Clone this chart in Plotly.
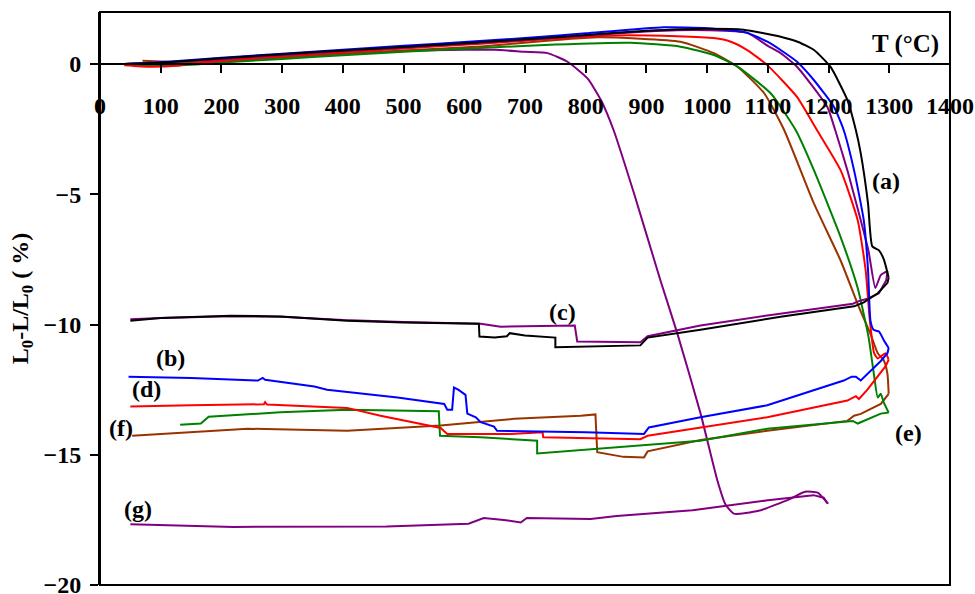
import plotly.graph_objects as go

# ---------------- data ----------------
# (a) black
a_T = [40, 100, 200, 300, 400, 500, 600, 700, 800, 900, 1000, 1060, 1121, 1150, 1176, 1203, 1231, 1245,
       1253, 1265, 1272, 1283, 1291, 1299, 1297, 1281, 1258, 1242, 1121, 989, 902, 890, 800, 750, 750,
       700, 675, 670, 650, 625, 624, 500, 407, 297, 215, 100, 50]
a_dL = [0.0, 0.05, 0.22, 0.38, 0.52, 0.66, 0.8, 0.95, 1.12, 1.28, 1.36, 1.32, 1.05, 0.85, 0.54, -0.1, -1.38, -2.54,
        -3.43, -5.36, -7.0, -7.15, -7.5, -8.2, -8.4, -8.8, -9.15, -9.3, -9.7, -10.2, -10.5, -10.8, -10.85, -10.87, -10.5,
        -10.42, -10.33, -10.45, -10.5, -10.46, -9.97, -9.92, -9.85, -9.69, -9.66, -9.75, -9.85]

# (b) blue
b_T = [40, 100, 200, 300, 400, 500, 600, 700, 800, 928, 1000, 1066, 1100, 1121, 1148, 1176, 1209, 1225,
       1242, 1258, 1265, 1269, 1274, 1283, 1291, 1299, 1297, 1286, 1253, 1245, 1238, 1225, 1099, 989, 904,
       896, 800, 654, 649, 627, 619, 605, 602, 590, 583, 580, 572, 567, 490, 374, 353, 272, 268, 260, 150, 47]
b_dL = [0.0, 0.07, 0.24, 0.4, 0.55, 0.7, 0.85, 1.0, 1.18, 1.41, 1.38, 1.2, 0.85, 0.54, 0.09, -0.62, -1.65, -2.54,
        -4.08, -6.0, -7.9, -9.85, -10.2, -10.27, -10.6, -10.9, -11.1, -11.4, -12.15, -12.0, -12.0, -12.15, -13.1, -13.56, -13.95,
        -14.2, -14.14, -14.08, -13.92, -13.75, -13.56, -13.42, -12.7, -12.5, -12.42, -13.27, -13.27, -13.05, -12.8, -12.5, -12.38,
        -12.12, -12.05, -12.15, -12.05, -12.0]

# (c) purple
c_T = [40, 100, 200, 300, 400, 500, 600, 700, 800, 900, 950, 1000, 1066, 1100, 1121, 1148, 1198, 1211,
       1231, 1253, 1266, 1277, 1286, 1297, 1295, 1283, 1265, 1250, 1240, 1099, 989, 902, 890, 786, 782,
       660, 627, 500, 400, 300, 215, 100, 50]
c_dL = [0.0, 0.05, 0.2, 0.35, 0.5, 0.64, 0.78, 0.93, 1.1, 1.25, 1.3, 1.3, 1.2, 0.7, 0.42, -0.1, -1.65, -2.54,
        -4.08, -6.0, -7.2, -8.6, -8.1, -7.95, -8.3, -8.8, -9.0, -9.1, -9.2, -9.65, -10.04, -10.45, -10.68, -10.65, -10.04,
        -10.08, -9.97, -9.9, -9.83, -9.7, -9.68, -9.75, -9.8]

# (d) red
d_T = [40, 83, 130, 165, 300, 400, 500, 627, 750, 847, 950, 1011, 1039, 1066, 1099, 1148, 1181, 1220,
       1248, 1261, 1268, 1275, 1281, 1294, 1299, 1294, 1264, 1250, 1245, 1231, 1099, 989, 902, 890, 764,
       730, 729, 676, 572, 561, 517, 462, 407, 275, 272, 270, 150, 50]
d_dL = [-0.04, -0.1, -0.05, 0.06, 0.3, 0.45, 0.6, 0.78, 0.98, 1.1, 1.07, 1.0, 0.86, 0.54, -0.04, -1.26, -2.54, -4.08,
        -6.0, -7.9, -9.85, -11.1, -11.3, -11.1, -11.35, -11.6, -12.5, -12.86, -12.75, -12.92, -13.56, -13.95, -14.27, -14.4, -14.33,
        -14.33, -14.14, -14.2, -14.2, -13.97, -13.76, -13.5, -13.2, -13.07, -12.98, -13.06, -13.1, -13.15]

# (e) green
e_T = [40, 122, 200, 300, 400, 500, 627, 750, 874, 956, 1011, 1050, 1105, 1146, 1176, 1220, 1248, 1266,
       1274, 1281, 1286, 1291, 1299, 1286, 1248, 1240, 1231, 1099, 989, 825, 720, 720, 627, 560, 558,
       407, 297, 179, 166, 132]
e_dL = [-0.02, -0.06, 0.06, 0.2, 0.34, 0.47, 0.62, 0.75, 0.82, 0.67, 0.35, -0.1, -1.13, -2.54, -4.08, -6.65, -8.6, -10.5,
        -11.8, -12.8, -12.66, -13.0, -13.38, -13.42, -13.8, -13.7, -13.72, -14.0, -14.46, -14.77, -14.95, -14.46, -14.33, -14.27, -13.33,
        -13.27, -13.37, -13.54, -13.8, -13.85]

# (f) brown
f_T = [70, 100, 150, 200, 300, 400, 500, 627, 819, 956, 1011, 1050, 1094, 1127, 1176, 1220, 1250, 1269,
       1281, 1291, 1297, 1299, 1286, 1253, 1242, 1231, 1099, 989, 902, 896, 862, 819, 816, 792, 682,
       561, 407, 243, 144, 53]
f_dL = [0.13, 0.1, 0.06, 0.1, 0.25, 0.38, 0.52, 0.68, 1.03, 0.86, 0.42, -0.1, -1.12, -2.54, -5.36, -7.55, -9.33, -10.36,
        -11.1, -11.38, -11.9, -12.66, -13.05, -13.43, -13.5, -13.7, -14.08, -14.43, -14.87, -15.1, -15.08, -14.9, -13.45, -13.5, -13.62,
        -13.88, -14.08, -14.0, -14.14, -14.27]

# (g) purple
g_T = [40, 100, 200, 300, 400, 500, 600, 650, 700, 737, 770, 803, 825, 846, 880, 923, 951, 989, 1017,
       1030, 1044, 1085, 1136, 1161, 1182, 1199, 1192, 1175, 1100, 976, 851, 808, 703, 693, 665, 632,
       607, 472, 220, 50]
g_dL = [0.0, 0.05, 0.18, 0.3, 0.4, 0.5, 0.55, 0.55, 0.47, 0.42, 0.09, -0.55, -1.38, -2.54, -5.0, -8.3, -10.35, -13.4, -16.0,
        -16.9, -17.26, -17.15, -16.7, -16.42, -16.45, -16.88, -16.65, -16.55, -16.75, -17.13, -17.35, -17.47, -17.43, -17.6, -17.5, -17.43,
        -17.65, -17.75, -17.77, -17.67]

series = [
    ("(g)", g_T, g_dL, "#800080"),
    ("(f)", f_T, f_dL, "#993300"),
    ("(e)", e_T, e_dL, "#008000"),
    ("(d)", d_T, d_dL, "#FF0000"),
    ("(c)", c_T, c_dL, "#800080"),
    ("(b)", b_T, b_dL, "#0000FF"),
    ("(a)", a_T, a_dL, "#000000"),
]

# curve labels
label_text = ["(a)", "(b)", "(c)", "(d)", "(e)", "(f)", "(g)"]
label_T = [1294, 116, 762, 77, 1332, 34, 62]
label_dL = [-4.5, -11.3, -9.5, -12.46, -14.15, -13.96, -17.1]

x_ticks = list(range(0, 1401, 100))
y_ticks = [-20, -15, -10, -5, 0]

FONT = "Liberation Serif, Times New Roman, serif"

fig = go.Figure()
for name, xs, ys, col in series:
    k = xs.index(max(xs))  # turnaround: heating (smooth) / cooling (stepped)
    fig.add_trace(go.Scatter(x=xs[:k + 1], y=ys[:k + 1], mode="lines", name=name,
                             line=dict(color=col, width=2, shape="spline", smoothing=0.5),
                             showlegend=False))
    fig.add_trace(go.Scatter(x=xs[k:], y=ys[k:], mode="lines", name=name,
                             line=dict(color=col, width=2), showlegend=False))

for t, xv, yv in zip(label_text, label_T, label_dL):
    fig.add_annotation(x=xv, y=yv, text=t, showarrow=False,
                       font=dict(family=FONT, size=24, color="black", weight="bold"))

fig.add_annotation(x=1385, y=0.77, text="T (°C)", showarrow=False, xanchor="right", yanchor="middle",
                   font=dict(family=FONT, size=25, color="black", weight="bold"))

fig.update_layout(
    width=975, height=594,
    margin=dict(l=100, r=25, t=12, b=9),
    plot_bgcolor="white", paper_bgcolor="white",
    xaxis=dict(range=[0, 1400], tickvals=x_ticks, ticks="outside", ticklen=8, tickwidth=2,
               tickcolor="black", showline=True, linecolor="black", linewidth=2,
               showgrid=False, zeroline=False, anchor="free", position=20 / 22,
               ticklabelstandoff=12, ticklabeloverflow="allow", automargin=False,
               tickfont=dict(family=FONT, size=24, color="black", weight="bold")),
    yaxis=dict(range=[-20, 2], tickvals=y_ticks, ticks="outside", ticklen=8, tickwidth=2,
               tickcolor="black", showline=True, linecolor="black", linewidth=2,
               showgrid=False, zeroline=False, ticklabelstandoff=4, ticklabeloverflow="allow",
               automargin=False,
               tickfont=dict(family=FONT, size=24, color="black", weight="bold"),
               title=dict(text="L<sub>0</sub>-L/L<sub>0</sub> ( %)", standoff=8,
                          font=dict(family=FONT, size=24, color="black", weight="bold"))),
    shapes=[dict(type="rect", xref="paper", yref="paper", x0=0, y0=0, x1=1, y1=1,
                 line=dict(color="black", width=2), layer="above")],
)

fig.write_html("out.html")
